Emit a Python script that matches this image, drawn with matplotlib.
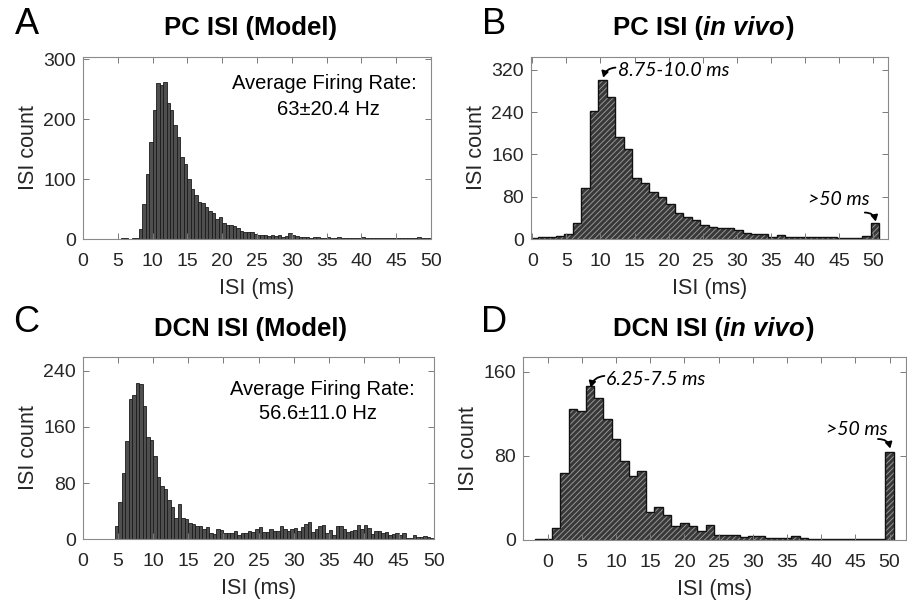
import matplotlib
matplotlib.use("Agg")
import matplotlib.pyplot as plt
import numpy as np
from matplotlib.offsetbox import TextArea, HPacker, AnchoredOffsetbox

plt.rcParams['font.family'] = ['Liberation Sans', 'DejaVu Sans']
plt.rcParams['hatch.linewidth'] = 0.7

# Panel A: PC ISI (Model), 0.5 ms bins starting at 5.5 ms
A_START, A_WIDTH = 5.5, 0.5
A_COUNTS = [2, 1, 0, 1, 2, 17, 59, 109, 162, 215, 260, 258, 263, 227, 215, 190, 170,
            137, 126, 101, 84, 73, 62, 60, 54, 46, 43, 34, 37, 26, 24, 23, 22, 19, 14,
            12, 12, 11, 9, 7, 6, 7, 5, 6, 5, 6, 4, 5, 10, 7, 5, 4, 3, 3, 2, 3, 4, 2, 2,
            3, 2, 2, 3, 2, 1, 2, 2, 1, 2, 3, 2, 2, 1, 2, 1, 1, 2, 1, 1, 1, 2, 1, 1, 1,
            2, 3, 2, 1, 1]

# Panel B: PC ISI (in vivo), 1.25 ms bins, plus an overflow (>50 ms) bin
B_START, B_WIDTH = -0.35, 1.25
B_COUNTS = [1, 3, 4, 5, 9, 31, 96, 241, 300, 269, 192, 171, 116, 105, 89, 80, 66, 50,
            42, 36, 26, 23, 21, 21, 17, 12, 9, 9, 3, 7, 3, 3, 4, 4, 3, 3, 2, 1, 2, 5]
B_OVER = 30

# Panel C: DCN ISI (Model), 0.5 ms bins starting at 4.5 ms
C_START, C_WIDTH = 4.5, 0.5
C_COUNTS = [18, 53, 94, 140, 200, 206, 223, 222, 190, 146, 141, 118, 89, 76, 72, 56, 46,
            30, 50, 30, 28, 23, 21, 19, 18, 14, 17, 9, 7, 15, 13, 9, 9, 8, 11, 6, 8, 9,
            11, 10,
            15, 17, 10, 10, 14, 12, 12, 18, 14, 12, 15, 16, 12, 17, 21, 25, 10, 15, 18,
            20, 9, 13, 6, 19, 19, 14, 10, 12, 13, 20, 14, 20, 16, 7, 12, 11, 8, 10, 6,
            7, 9, 6, 8, 2, 2, 6, 3, 3, 4, 3, 2]

# Panel D: DCN ISI (in vivo), 1.25 ms bins, plus an overflow (>50 ms) bin
D_START, D_WIDTH = -1.9, 1.25
D_COUNTS = [1, 1, 11, 64, 125, 123, 146, 135, 115, 96, 75, 61, 66, 27, 31, 24, 13, 16,
            13, 9, 14, 5, 5, 5, 3, 4, 4, 2, 2, 2, 4, 2, 1, 1, 1, 1, 1, 1, 1, 1, 1]
D_OVER = 84

X_TICKS = np.arange(0, 51, 5)
TEXT_C = '#262626'


def style_axes(ax, xlim, ylim, yticks):
    ax.set_xlim(*xlim)
    ax.set_ylim(*ylim)
    ax.set_xticks(X_TICKS)
    ax.set_yticks(yticks)
    ax.tick_params(direction='in', length=4.5, width=0.7, top=True, right=True,
                   labelsize=14, colors='#7a7a7a', labelcolor=TEXT_C)
    ax.tick_params(axis='x', pad=10)
    ax.tick_params(axis='y', pad=5)
    for s in ax.spines.values():
        s.set_color('#8a8a8a')
        s.set_linewidth(0.8)
    ax.set_xlabel('ISI (ms)', fontsize=15.5, color=TEXT_C, labelpad=6)
    ax.set_ylabel('ISI count', fontsize=15.5, color=TEXT_C, labelpad=3)


def model_hist(ax, start, width, counts):
    left = start + width * np.arange(len(counts))
    ax.bar(left, counts, width=width, align='edge', facecolor='#4f4f4f',
           edgecolor='#1c1c1c', linewidth=0.6)


def vivo_hist(ax, start, width, counts, over):
    vals = np.array(counts + [over])
    edges = start + width * np.arange(len(vals) + 1)
    ax.bar(edges[:-1], vals, width=width, align='edge', facecolor='#383838',
           edgecolor='#959595', hatch='//////', linewidth=0)
    ax.stairs(vals, edges, color='#111111', linewidth=1.0)


def bold_title(fig, x, y, pieces):
    areas = [TextArea(t, textprops=dict(fontsize=18.5, fontweight='bold',
                                        fontstyle=st, color='black'))
             for t, st in pieces]
    box = HPacker(children=areas, align='baseline', pad=0, sep=0)
    anch = AnchoredOffsetbox(loc='center', child=box, pad=0, borderpad=0,
                             frameon=False, bbox_to_anchor=(x / 907, 1 - y / 605),
                             bbox_transform=fig.transFigure)
    fig.add_artist(anch)


fig = plt.figure(figsize=(9.07, 6.05), dpi=100)

axA = fig.add_axes([83 / 907, 1 - 239 / 605, 348 / 907, 182 / 605])
axB = fig.add_axes([531 / 907, 1 - 239 / 605, 357 / 907, 182 / 605])
axC = fig.add_axes([83 / 907, 1 - 539 / 605, 351 / 907, 182 / 605])
axD = fig.add_axes([523 / 907, 1 - 540 / 605, 383 / 907, 183 / 605])

model_hist(axA, A_START, A_WIDTH, A_COUNTS)
style_axes(axA, (0, 50), (0, 304), [0, 100, 200, 300])
axA.text(0.695, 0.852, 'Average Firing Rate:', transform=axA.transAxes,
         ha='center', va='center', fontsize=14.5, color='black')
axA.text(0.705, 0.714, '63\u00b120.4 Hz', transform=axA.transAxes,
         ha='center', va='center', fontsize=14.5, color='black')

vivo_hist(axB, B_START, B_WIDTH, B_COUNTS, B_OVER)
style_axes(axB, (-0.2, 52.2), (0, 344), [0, 80, 160, 240, 320])

model_hist(axC, C_START, C_WIDTH, C_COUNTS)
style_axes(axC, (0, 50), (0, 260), [0, 80, 160, 240])
axC.text(0.681, 0.824, 'Average Firing Rate:', transform=axC.transAxes,
         ha='center', va='center', fontsize=14.5, color='black')
axC.text(0.67, 0.687, '56.6\u00b111.0 Hz', transform=axC.transAxes,
         ha='center', va='center', fontsize=14.5, color='black')

vivo_hist(axD, D_START, D_WIDTH, D_COUNTS, D_OVER)
style_axes(axD, (-3.6, 52.4), (0, 174), [0, 80, 160])

# italic callouts on the in vivo panels
note = dict(fontsize=14, fontstyle='italic', family=['Lato', 'DejaVu Sans'], color='black')
arrow = dict(arrowstyle='-|>,head_length=0.35,head_width=0.2', color='black', lw=1.3,
             shrinkA=0, shrinkB=0)
axB.annotate('', xy=(10.4, 305), xytext=(12.2, 324),
             arrowprops=dict(arrow, connectionstyle='arc3,rad=0.35'))
axB.text(12.5, 319, '8.75-10.0 ms', va='center', ha='left', **note)
axB.text(45.0, 74, '>50 ms', va='center', ha='center', **note)
axB.annotate('', xy=(50.4, 33), xytext=(48.8, 50),
             arrowprops=dict(arrow, connectionstyle='arc3,rad=-0.4'))

axD.annotate('', xy=(6.3, 145), xytext=(8.3, 156),
             arrowprops=dict(arrow, connectionstyle='arc3,rad=0.35'))
axD.text(8.6, 153, '6.25-7.5 ms', va='center', ha='left', **note)
axD.text(45.2, 105, '>50 ms', va='center', ha='center', **note)
axD.annotate('', xy=(50.1, 87), xytext=(48.3, 96),
             arrowprops=dict(arrow, connectionstyle='arc3,rad=-0.4'))

# titles and panel letters
bold_title(fig, 250, 28, [('PC ISI (Model)', 'normal')])
bold_title(fig, 703, 28, [('PC ISI (', 'normal'), ('in vivo', 'italic'), (')', 'normal')])
bold_title(fig, 250, 329, [('DCN ISI (Model)', 'normal')])
bold_title(fig, 713, 329, [('DCN ISI (', 'normal'), ('in vivo', 'italic'), (')', 'normal')])

for lab, x, y in [('A', 27, 25), ('B', 494, 25), ('C', 26, 322), ('D', 494, 323)]:
    fig.text(x / 907, 1 - y / 605, lab, fontsize=26, ha='center', va='center', color='black')

fig.savefig('out.png', dpi=100)
